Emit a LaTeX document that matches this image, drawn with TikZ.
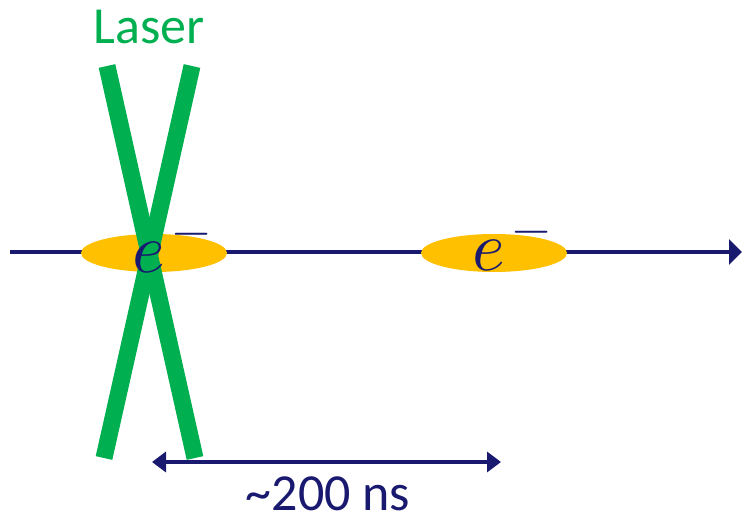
\documentclass[tikz,border=0pt]{standalone}
\usepackage{fontspec}
\usepackage{unicode-math}
\setmainfont{Carlito}
\setmathfont{Latin Modern Math}
\usetikzlibrary{arrows.meta,shapes.geometric}
\definecolor{navy}{RGB}{25,25,112}
\definecolor{lasergreen}{RGB}{0,176,80}
\definecolor{bunch}{RGB}{255,192,0}
\begin{document}
\begin{tikzpicture}[x=1pt,y=-1pt,
  beam/.style={draw=lasergreen,line width=17pt},
  bunchell/.style={fill=bunch,draw=none,ellipse,minimum width=146pt,minimum height=38pt,inner sep=0},
  axis/.style={draw=navy,line width=4pt},
  elec/.style={text=navy,font=\fontsize{70}{70}\selectfont,anchor=base west,inner sep=0},
  lbl/.style={font=\fontsize{52}{52}\selectfont,inner sep=0}]
\useasboundingbox (0,0) rectangle (742,516);
% axis
\coordinate (axL) at (10,252);
\coordinate (axR) at (742,252);
\draw[axis,-{Triangle[length=13pt,width=25pt]}] (axL) -- (axR);
% bunches
\node[bunchell] (b1) at (154,253) {};
\node[bunchell] (b2) at (494,253) {};
% laser beams
\coordinate (l1a) at (107,66);
\coordinate (l1b) at (195,458);
\coordinate (l2a) at (192,66);
\coordinate (l2b) at (104,458);
\draw[beam] (l1a) -- (l1b);
\draw[beam] (l2a) -- (l2b);
% electrons
\node[elec] (e1) at (132,272) {$e^{\,-}$};
\node[elec] (e2) at (472,270) {$e^{\,-}$};
% labels
\node[lbl,text=lasergreen] (laser) at (149,27) {Laser};
\coordinate (tL) at (152,462);
\coordinate (tR) at (501,462);
\draw[axis,line width=3.5pt,{Triangle[length=14pt,width=20pt]}-{Triangle[length=14pt,width=20pt]}] (tL) -- (tR);
\node[lbl,text=navy,anchor=base,text depth=0pt] (time) at (328,510) {\char`\~200 ns};
\end{tikzpicture}
\end{document}
